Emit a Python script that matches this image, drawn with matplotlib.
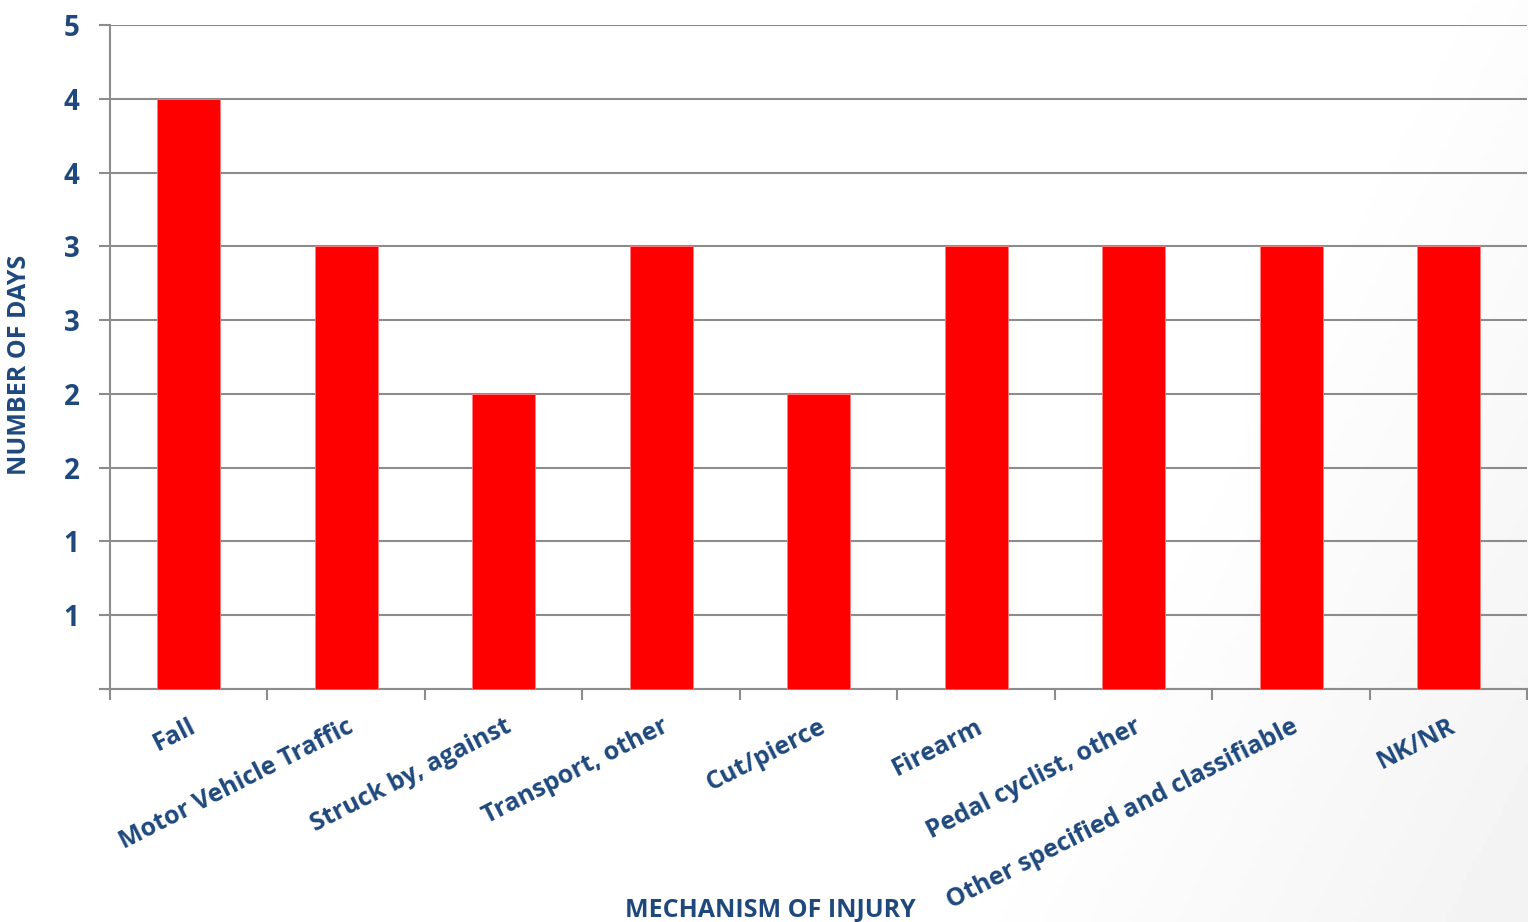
import numpy as np
import matplotlib
matplotlib.use("Agg")
import matplotlib.pyplot as plt
from matplotlib.ticker import FuncFormatter

categories = ["Fall", "Motor Vehicle Traffic", "Struck by, against", "Transport, other",
              "Cut/pierce", "Firearm", "Pedal cyclist, other",
              "Other specified and classifiable", "NK/NR"]
days = [4.0, 3.0, 2.0, 3.0, 2.0, 3.0, 3.0, 3.0, 3.0]
y_ticks = [0.5, 1.0, 1.5, 2.0, 2.5, 3.0, 3.5, 4.0, 4.5]

navy = "#1F497D"
grey = "#8C8C8C"
plt.rcParams['font.family'] = ['Open Sans', 'DejaVu Sans']

fig = plt.figure(figsize=(15.28, 9.22), dpi=100)

# faint grey shading toward the bottom-right corner
bg = fig.add_axes([0, 0, 1, 1], zorder=-10)
gx, gy = np.meshgrid(np.linspace(0, 1, 300), np.linspace(1, 0, 200))
shade = np.clip((gx * 1.6 + (1 - gy) * 0.5 - 1.5) / 0.6, 0, 1)
bg.imshow(1 - 0.05 * shade, cmap="gray", vmin=0, vmax=1, aspect="auto",
          extent=[0, 1, 0, 1])
bg.axis("off")

ax = fig.add_axes([0.072, 0.2527, 0.9275, 0.7202])
ax.patch.set_alpha(0)
x = np.arange(len(categories))
ax.bar(x, days, width=0.4, color="#FF0000", edgecolor="#FF8080", linewidth=0.6, zorder=3)

ax.set_xlim(-0.5, len(categories) - 0.5)
ax.set_ylim(0, 4.5)
ax.set_yticks([0] + y_ticks)
ax.yaxis.set_major_formatter(FuncFormatter(lambda v, p: "" if v == 0 else str(int(v + 0.5))))
ax.yaxis.grid(True, color=grey, linewidth=1.5, zorder=0)
ax.tick_params(axis="y", length=8, width=1.5, color=grey, labelsize=20,
               labelcolor=navy, pad=14)
for lab in ax.get_yticklabels():
    lab.set_fontweight("bold")

# category boundaries as tick marks, labels at bar centres
ax.set_xticks(np.arange(-0.5, len(categories)), minor=True)
ax.tick_params(axis="x", which="minor", length=8, width=1.5, color=grey)
ax.set_xticks(x)
ax.set_xticklabels(categories, rotation=27, ha="right", va="top",
                   rotation_mode="anchor", fontsize=18, fontweight="bold", color=navy)
ax.tick_params(axis="x", which="major", length=0, pad=18)

for s in ["top", "right"]:
    ax.spines[s].set_visible(False)
for s in ["left", "bottom"]:
    ax.spines[s].set_color(grey)
    ax.spines[s].set_linewidth(1.5)

fig.text(0.013, 0.604, "NUMBER OF DAYS", rotation=90, ha="center", va="center",
         fontsize=18, fontweight="bold", color=navy)
fig.text(0.504, 0.012, "MECHANISM OF INJURY", ha="center", va="center",
         fontsize=18, fontweight="bold", color=navy)

fig.savefig("out.png", dpi=100)
